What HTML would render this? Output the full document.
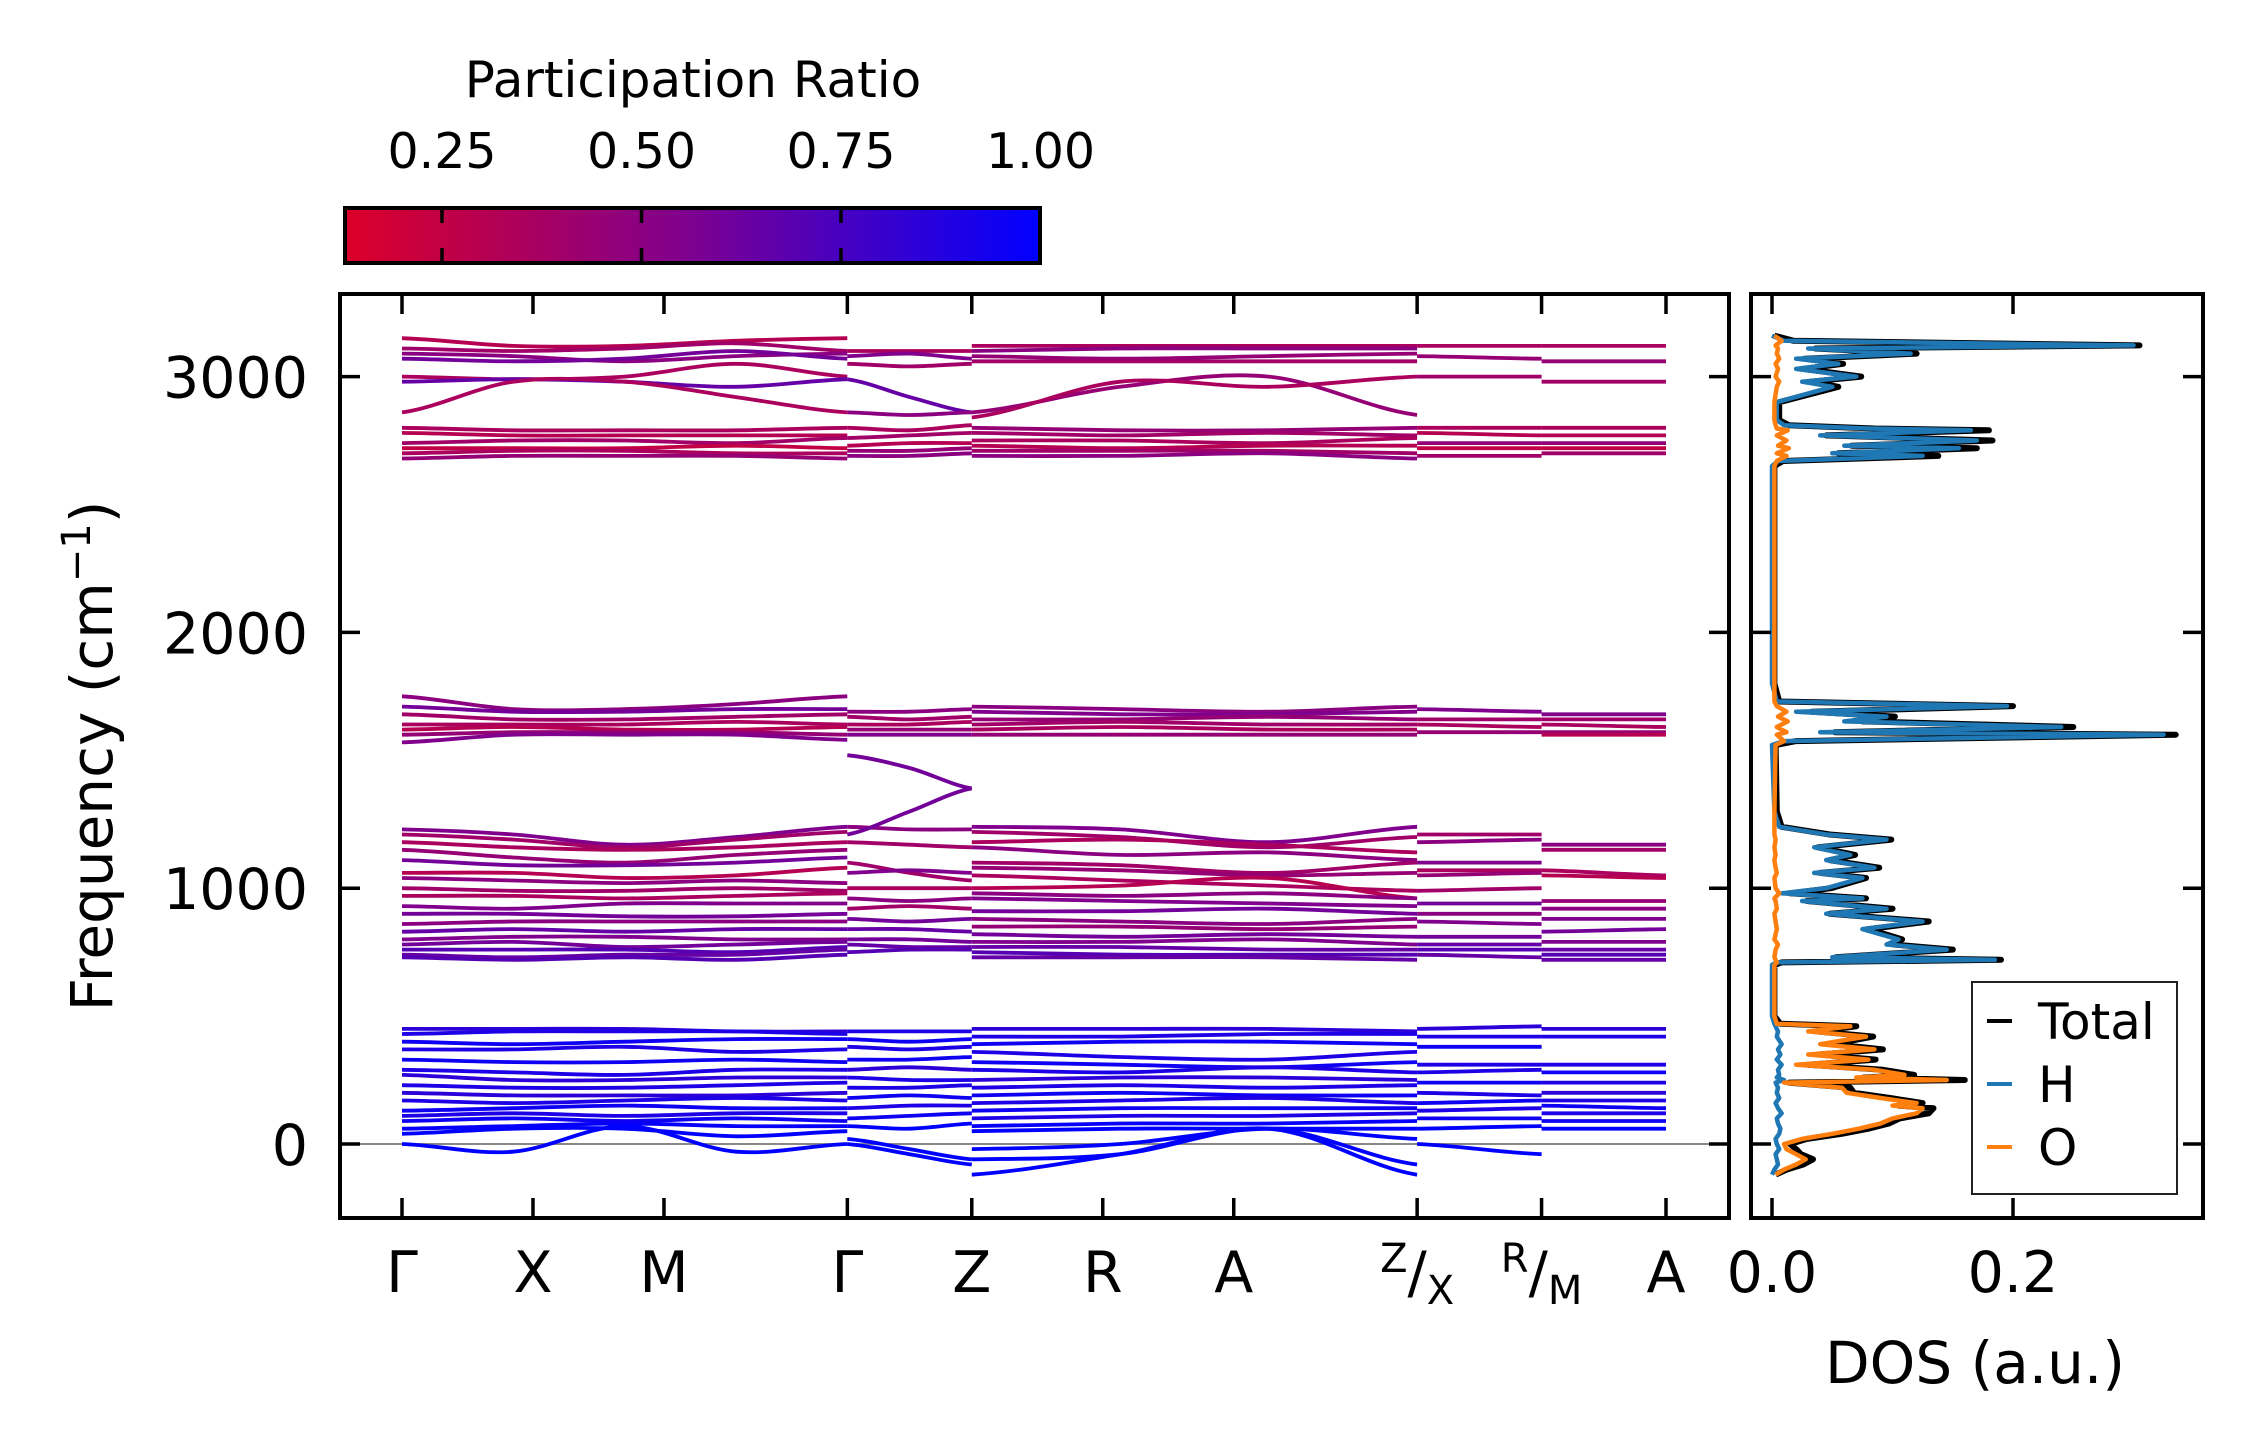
<!DOCTYPE html>
<html><head><meta charset="utf-8">
<style>
html,body{margin:0;padding:0;background:#fff;}
svg{display:block;font-family:"DejaVu Sans","Liberation Sans",sans-serif;}
</style></head>
<body>
<svg id="fig" width="2259" height="1455" viewBox="0 0 2259 1455" xmlns="http://www.w3.org/2000/svg">
<defs>
<linearGradient id="cgrad" x1="0" x2="1" y1="0" y2="0">
<stop offset="0" stop-color="#dc0028"/><stop offset="0.5" stop-color="#7d0090"/><stop offset="1" stop-color="#0000ff"/>
</linearGradient>
<clipPath id="mainclip"><rect x="340" y="294" width="1389" height="924"/></clipPath>
<clipPath id="dosclip"><rect x="1751" y="294" width="452" height="924"/></clipPath>
</defs>
<g>
<text x="693" y="97" font-size="50" text-anchor="middle">Participation Ratio</text>
<rect x="345" y="208" width="695" height="55" fill="url(#cgrad)" stroke="#000" stroke-width="4"/>
<g id="cbticks"></g>
</g>
<g id="mainaxes">
<line x1="340" x2="1729" y1="1144" y2="1144" stroke="#888" stroke-width="2"/>
<g id="bands" clip-path="url(#mainclip)"></g>
<rect x="340" y="294" width="1389" height="924" fill="none" stroke="#000" stroke-width="4"/>
<g id="mainticks"></g>
<text transform="translate(112,756) rotate(-90)" font-size="58" text-anchor="middle">Frequency (cm<tspan dy="-22" font-size="40">−1</tspan><tspan dy="22">)</tspan></text>
</g>
<g id="dosaxes">
<g id="dos" clip-path="url(#dosclip)"></g>
<rect x="1751" y="294" width="452" height="924" fill="none" stroke="#000" stroke-width="4"/>
<g id="dosticks"></g>
<text x="1975" y="1383" font-size="58" text-anchor="middle">DOS (a.u.)</text>
<g>
<rect x="1972" y="982" width="205" height="212" fill="#fff" stroke="#222" stroke-width="2"/>
<line x1="1987" x2="2012" y1="1021" y2="1021" stroke="#000" stroke-width="4"/>
<text x="2038" y="1039" font-size="50">Total</text>
<line x1="1987" x2="2012" y1="1084" y2="1084" stroke="#1f77b4" stroke-width="4"/>
<text x="2038" y="1102" font-size="50">H</text>
<line x1="1987" x2="2012" y1="1147" y2="1147" stroke="#ff7f0e" stroke-width="4"/>
<text x="2038" y="1165" font-size="50">O</text>
</g>
</g>
</svg>
<script>
// ---------- data ----------
const kLabels = ["Γ","X","M","Γ","Z","R","A","Z/X","R/M","A"];
const kPos = [0,1,2,3.4,4.35,5.35,6.35,7.75,8.7,9.65];
const yTicks = [0,1000,2000,3000];
const cbTicks = [0.25,0.5,0.75,1.0];
const cbTickLabels = ["0.25","0.50","0.75","1.00"];
const dosTicks = [0.0,0.2];
const dosTickLabels = ["0.0","0.2"];
const segRanges = [[0,3.4],[3.4,4.35],[4.35,7.75],[7.75,8.7],[8.7,9.65]];
const seg1Bands = [
[3150,3120,3120,3140,3150],[3110,3100,3110,3130,3100],[3090,3080,3060,3080,3090],[3070,3060,3070,3100,3070],
[3000,2990,3000,3050,3000],[2980,2990,2980,2960,2990],[2860,2980,2980,2920,2860],[2800,2790,2790,2790,2800],
[2780,2770,2770,2770,2770],[2740,2750,2750,2740,2760],[2720,2720,2720,2730,2720],[2700,2710,2710,2700,2700],[2680,2690,2690,2690,2680],
[1750,1700,1700,1720,1750],[1710,1690,1690,1700,1700],[1680,1660,1660,1670,1680],[1640,1640,1640,1650,1640],
[1620,1630,1620,1620,1630],[1600,1610,1610,1610,1600],[1570,1600,1600,1600,1580],
[1230,1210,1170,1200,1240],[1210,1190,1160,1190,1220],[1180,1160,1150,1160,1180],[1150,1120,1100,1130,1150],
[1110,1090,1090,1100,1120],[1060,1060,1040,1050,1080],[1040,1030,1020,1030,1020],[1000,990,990,1000,990],
[970,970,960,970,980],[930,920,940,940,940],[900,900,890,890,900],[860,870,870,870,870],[830,840,830,840,840],
[800,810,810,800,800],[780,790,770,780,790],[760,760,760,750,770],[740,730,740,740,760],[730,720,730,720,740],
[450,450,450,440,440],[430,440,440,440,430],[400,390,400,410,410],[370,370,380,360,370],[330,320,320,330,320],
[290,280,270,290,290],[270,250,250,260,260],[230,220,220,230,240],[200,190,190,190,200],[170,160,170,180,170],
[130,140,150,140,140],[110,120,110,120,120],[90,100,90,100,90],[60,70,80,70,70],[40,60,60,30,50],[0,-30,70,-30,0]
];
const seg1PR = [.3,.4,.5,.6,.35,.65,.35,.35,.3,.4,.25,.35,.45,
.5,.6,.4,.35,.3,.45,.55,
.55,.4,.35,.45,.6,.3,.5,.4,.35,.55,.6,.5,.65,.55,.6,.7,.65,.7,
.85,.9,.95,.9,.95,.9,.85,.9,.85,.9,.95,.9,.95,.98,1,1];
const seg2Bands = [
[3100,3100,3100],[3080,3090,3070],[3050,3040,3050],[2990,2920,2860],[2860,2850,2860],[2800,2790,2810],
[2760,2770,2780],[2730,2740,2740],[2710,2710,2720],[2690,2690,2700],
[1690,1690,1700],[1670,1660,1670],[1640,1640,1650],[1620,1620,1620],[1600,1600,1600],
[1520,1470,1390],[1240,1230,1230],[1210,1300,1390],[1180,1170,1160],[1100,1060,1030],[1060,1070,1060],
[1000,1000,1000],[960,950,960],[920,930,920],[880,870,880],[840,840,830],[800,800,790],[780,770,770],[750,760,760],
[440,440,440],[410,400,410],[380,370,380],[330,330,340],[290,300,290],[260,250,250],[220,220,230],[180,190,180],
[140,150,150],[100,110,120],[70,60,80],[20,-20,-60],[0,-40,-80],[-10,-60,-100]
];
const seg2PR = [.35,.55,.4,.65,.5,.35,.4,.3,.45,.5,.5,.4,.35,.45,.55,.6,.5,.6,.4,.4,.55,.35,.5,.4,.6,.65,.6,.65,.7,
.9,.95,.9,.95,.85,.9,.9,.95,.9,.95,1,1,1];
const seg3Bands = [
[3120,3120,3120,3120],[3100,3110,3110,3110],[3080,3070,3080,3090],[3060,3060,3060,3060],
[2860,2960,3000,2850],[2840,2980,2960,3000],[2800,2790,2790,2800],[2780,2770,2780,2770],
[2750,2750,2740,2760],[2730,2720,2730,2730],[2710,2710,2710,2700],[2690,2690,2700,2680],
[1710,1700,1690,1710],[1690,1680,1680,1690],[1660,1660,1670,1660],[1640,1650,1640,1640],[1620,1630,1620,1620],[1600,1600,1600,1600],
[1240,1230,1180,1240],[1220,1200,1160,1200],[1180,1190,1170,1140],[1160,1130,1140,1110],[1100,1090,1060,1100],
[1080,1070,1050,1060],[1050,1030,1010,990],[1000,1010,1040,960],[980,970,980,960],[960,950,940,930],
[910,910,920,900],[880,870,860,880],[850,850,840,850],[820,810,820,810],[790,790,800,780],[770,770,760,760],[750,740,740,740],[730,730,730,720],
[450,450,450,440],[420,420,430,430],[390,400,400,390],[360,340,330,360],[320,310,300,320],[290,280,300,280],
[250,260,260,250],[220,230,220,230],[190,200,190,190],[160,170,180,160],[130,140,140,140],[100,110,110,120],
[70,80,80,90],[50,60,60,60],[-20,0,60,20],[-60,-40,60,-80],[-120,-40,60,-120]
];
const seg3PR = [.35,.5,.45,.4,.45,.35,.45,.4,.35,.3,.4,.5,
.5,.55,.45,.4,.35,.45,
.55,.4,.35,.5,.4,.45,.35,.3,.5,.55,.6,.5,.45,.6,.55,.65,.7,.65,
.85,.9,.95,.9,.95,.9,.85,.9,.95,.9,.95,.9,.98,1,1,1,1];
const seg4Bands = [
[3120,3120],[3080,3070],[3000,3000],[2800,2800],[2780,2770],[2740,2740],[2720,2720],[2690,2690],
[1700,1690],[1660,1660],[1640,1630],[1610,1610],
[1210,1210],[1180,1190],[1100,1100],[1070,1070],[1050,1060],[990,1000],[940,940],[900,900],[870,860],[810,810],[780,780],[760,760],[740,730],
[450,460],[420,420],[380,380],[310,310],[280,290],[240,240],[200,190],[160,170],[130,140],[100,100],[60,70],[0,-40]
];
const seg4PR = [.35,.45,.4,.35,.3,.45,.25,.4,.55,.4,.35,.45,.4,.5,.55,.35,.45,.4,.6,.5,.55,.6,.65,.7,.65,
.85,.9,.95,.9,.9,.95,.9,.95,.9,.95,1,1];
const seg5Bands = [
[3120,3120],[3060,3060],[2980,2980],[2800,2800],[2770,2770],[2740,2740],[2720,2720],[2700,2700],
[1680,1680],[1660,1660],[1640,1630],[1610,1610],[1600,1600],
[1170,1170],[1150,1150],[1070,1050],[1050,1040],[950,950],[920,920],[880,880],[830,840],[790,790],[760,760],[740,740],[720,720],
[450,450],[420,420],[310,310],[280,280],[240,240],[200,200],[170,170],[150,140],[120,120],[90,90],[60,60]
];
const seg5PR = [.35,.45,.4,.35,.3,.45,.25,.4,.55,.4,.35,.45,.3,.5,.4,.35,.3,.45,.5,.55,.6,.55,.65,.7,.65,
.85,.9,.9,.95,.9,.85,.9,.95,.9,.95,1];
const dosFreq  = [-120,-100,-80,-60,-40,-20,0,20,40,60,80,100,120,140,150,160,180,200,220,240,250,260,270,290,310,330,350,370,390,420,440,460,470,500,700,710,720,730,760,780,800,840,870,900,920,950,960,980,1000,1040,1060,1080,1110,1130,1160,1190,1210,1240,1300,1560,1575,1600,1610,1630,1652,1671,1690,1712,1730,1800,2650,2670,2690,2700,2720,2730,2750,2770,2790,2797,2810,2830,2900,2960,2980,3000,3030,3050,3070,3090,3110,3122,3140,3160];
const dosH     = [0.000,0.002,0.005,0.004,0.003,0.006,0.004,0.003,0.006,0.007,0.005,0.004,0.008,0.005,0.004,0.003,0.006,0.004,0.005,0.003,0.010,0.004,0.006,0.005,0.008,0.004,0.007,0.005,0.008,0.004,0.005,0.003,0.002,0.000,0.000,0.004,0.185,0.050,0.145,0.095,0.105,0.075,0.125,0.045,0.095,0.025,0.075,0.008,0.045,0.075,0.035,0.085,0.045,0.065,0.035,0.095,0.045,0.006,0.002,0.000,0.010,0.325,0.040,0.240,0.060,0.095,0.020,0.195,0.004,0.000,0.000,0.005,0.125,0.050,0.155,0.060,0.170,0.040,0.165,0.080,0.010,0.004,0.004,0.050,0.025,0.070,0.020,0.055,0.020,0.115,0.030,0.300,0.010,0.000];
const dosO     = [0.003,0.010,0.020,0.028,0.020,0.012,0.010,0.025,0.050,0.072,0.090,0.100,0.120,0.125,0.100,0.120,0.090,0.062,0.058,0.010,0.145,0.070,0.110,0.085,0.020,0.080,0.030,0.085,0.040,0.078,0.030,0.065,0.004,0.002,0.002,0.004,0.003,0.002,0.003,0.005,0.002,0.004,0.003,0.002,0.004,0.003,0.002,0.006,0.003,0.002,0.004,0.003,0.002,0.003,0.002,0.003,0.002,0.002,0.002,0.003,0.010,0.004,0.012,0.004,0.013,0.005,0.012,0.004,0.002,0.002,0.002,0.004,0.012,0.004,0.014,0.005,0.012,0.004,0.013,0.004,0.003,0.002,0.002,0.004,0.006,0.003,0.005,0.003,0.006,0.004,0.005,0.003,0.008,0.002];
const dosTotal = [0.003,0.012,0.026,0.034,0.024,0.020,0.015,0.029,0.058,0.080,0.097,0.106,0.130,0.134,0.105,0.125,0.098,0.068,0.065,0.014,0.160,0.076,0.118,0.092,0.030,0.086,0.039,0.092,0.050,0.084,0.037,0.070,0.007,0.002,0.002,0.008,0.190,0.053,0.150,0.101,0.108,0.080,0.130,0.048,0.100,0.029,0.078,0.015,0.049,0.078,0.040,0.089,0.048,0.069,0.038,0.099,0.048,0.008,0.004,0.003,0.020,0.335,0.052,0.250,0.075,0.102,0.033,0.200,0.006,0.002,0.002,0.009,0.138,0.055,0.170,0.066,0.183,0.045,0.180,0.085,0.014,0.006,0.006,0.055,0.032,0.074,0.026,0.059,0.027,0.120,0.036,0.305,0.018,0.002];

// ---------- scales ----------
const NS = "http://www.w3.org/2000/svg";
const X0 = 402, X1 = 1666;
function xk(k){ return X0 + (X1 - X0) * k / kPos[kPos.length-1]; }
function yf(f){ return 1144 - f * 0.2558; }
function xd(v){ return 1772 + v * 1205; }
function xcb(v){ return 442 + (v - 0.25) * 798; }
function prColor(p){
  const t = Math.max(0, Math.min(1, (p - 0.127) / (1 - 0.127)));
  let r,g,b;
  if (t < 0.5){ const u=t/0.5; r=220+(125-220)*u; g=0; b=40+(144-40)*u; }
  else { const u=(t-0.5)/0.5; r=125*(1-u); g=0; b=144+(255-144)*u; }
  return `rgb(${Math.round(r)},${Math.round(g)},${Math.round(b)})`;
}
function mk(tag, attrs, parent){
  const el = document.createElementNS(NS, tag);
  for (const k in attrs) el.setAttribute(k, attrs[k]);
  parent.appendChild(el);
  return el;
}
function smoothPath(xs, ys){
  let d = `M${xs[0].toFixed(1)},${ys[0].toFixed(1)}`;
  const n = xs.length;
  for (let i=0;i<n-1;i++){
    const y0 = ys[Math.max(0,i-1)], y1=ys[i], y2=ys[i+1], y3=ys[Math.min(n-1,i+2)];
    const x1=xs[i], x2=xs[i+1], dx=(x2-x1)/3;
    const c1y = y1 + (y2 - y0)/6, c2y = y2 - (y3 - y1)/6;
    d += ` C${(x1+dx).toFixed(1)},${c1y.toFixed(1)} ${(x2-dx).toFixed(1)},${c2y.toFixed(1)} ${x2.toFixed(1)},${y2.toFixed(1)}`;
  }
  return d;
}

// ---------- bands ----------
const bandsG = document.getElementById('bands');
const allSegs = [[seg1Bands,seg1PR],[seg2Bands,seg2PR],[seg3Bands,seg3PR],[seg4Bands,seg4PR],[seg5Bands,seg5PR]];
allSegs.forEach(([bands, prs], si) => {
  const [ka, kb] = segRanges[si];
  bands.forEach((fr, bi) => {
    const n = fr.length;
    const xs = fr.map((_, i) => xk(ka + (kb - ka) * i / (n - 1)));
    const ys = fr.map(f => yf(f));
    const p = mk('path', {d: smoothPath(xs, ys), fill:'none', stroke: prColor(prs[bi]), 'stroke-width': 3.8}, bandsG);
    
    
  });
});

// ---------- main ticks ----------
const mt = document.getElementById('mainticks');
kPos.forEach((k, i) => {
  const x = xk(k);
  mk('line', {x1:x, x2:x, y1:294, y2:314, stroke:'#000', 'stroke-width':3.5}, mt);
  mk('line', {x1:x, x2:x, y1:1218, y2:1198, stroke:'#000', 'stroke-width':3.5}, mt);
  const lab = kLabels[i];
  let t;
  if (lab.includes('/')){
    const [a, b] = lab.split('/');
    t = mk('text', {x:x, y:1292, 'font-size':57, 'text-anchor':'middle'}, mt);
    const s1 = mk('tspan', {'font-size':40, dy:-20}, t); s1.textContent = a;
    const s2 = mk('tspan', {'font-size':57, dy:20}, t); s2.textContent = '/';
    const s3 = mk('tspan', {'font-size':40, dy:12}, t); s3.textContent = b;
  } else {
    t = mk('text', {x:x, y:1292, 'font-size':57, 'text-anchor':'middle'}, mt);
    t.textContent = lab;
  }
  
  
});
yTicks.forEach(v => {
  const y = yf(v);
  mk('line', {x1:340, x2:360, y1:y, y2:y, stroke:'#000', 'stroke-width':3.5}, mt);
  mk('line', {x1:1729, x2:1709, y1:y, y2:y, stroke:'#000', 'stroke-width':3.5}, mt);
  const t = mk('text', {x:308, y:y+21, 'font-size':57, 'text-anchor':'end'}, mt);
  t.textContent = String(v);
  
  
});

// ---------- colorbar ticks ----------
const cbt = document.getElementById('cbticks');
cbTicks.forEach((v, i) => {
  const x = xcb(v);
  if (v < 0.999){
    mk('line', {x1:x, x2:x, y1:208, y2:223, stroke:'#000', 'stroke-width':3.5}, cbt);
    mk('line', {x1:x, x2:x, y1:248, y2:263, stroke:'#000', 'stroke-width':3.5}, cbt);
  }
  const t = mk('text', {x:x, y:168, 'font-size':49, 'text-anchor':'middle'}, cbt);
  t.textContent = cbTickLabels[i];
  
  
});

// ---------- DOS ----------
const dg = document.getElementById('dos');
function dosLine(vals, color, w, name){
  const pts = dosFreq.map((f, i) => `${xd(vals[i]).toFixed(1)},${yf(f).toFixed(1)}`).join(' ');
  const p = mk('polyline', {points: pts, fill:'none', stroke: color, 'stroke-width': w, 'stroke-linejoin':'round'}, dg);
  
  
}
dosLine(dosTotal, '#000', 6, 'dos-total-line');
dosLine(dosH, '#1f77b4', 4.5, 'dos-h-line');
dosLine(dosO, '#ff7f0e', 4.5, 'dos-o-line');
const dt = document.getElementById('dosticks');
dosTicks.forEach((v, i) => {
  const x = xd(v);
  mk('line', {x1:x, x2:x, y1:294, y2:314, stroke:'#000', 'stroke-width':3.5}, dt);
  mk('line', {x1:x, x2:x, y1:1218, y2:1198, stroke:'#000', 'stroke-width':3.5}, dt);
  const t = mk('text', {x:x, y:1292, 'font-size':57, 'text-anchor':'middle'}, dt);
  t.textContent = dosTickLabels[i];
  
  
});
yTicks.forEach(v => {
  const y = yf(v);
  mk('line', {x1:1751, x2:1771, y1:y, y2:y, stroke:'#000', 'stroke-width':3.5}, dt);
  mk('line', {x1:2203, x2:2183, y1:y, y2:y, stroke:'#000', 'stroke-width':3.5}, dt);
});
</script>
</body></html>
